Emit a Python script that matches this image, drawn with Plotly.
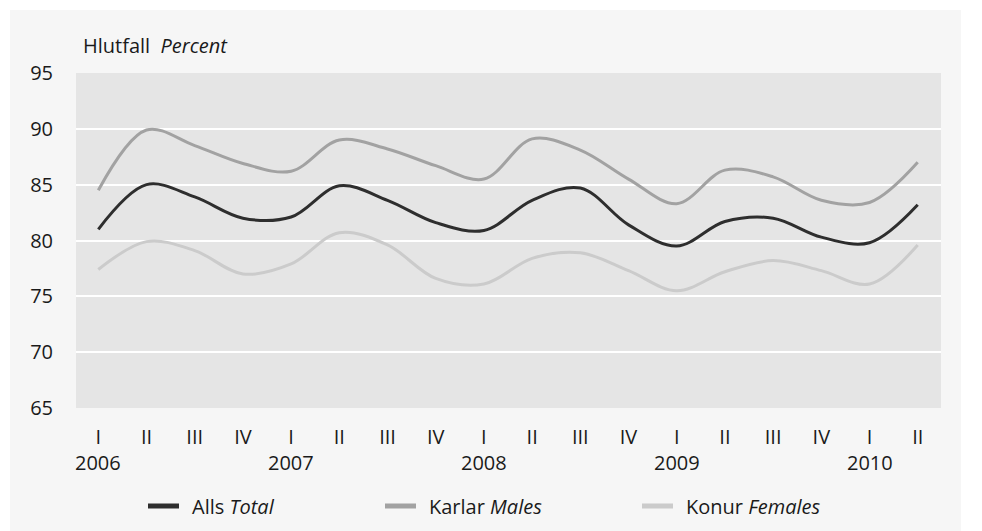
import plotly.graph_objects as go

# ---- data ----
quarters = ["I", "II", "III", "IV", "I", "II", "III", "IV", "I", "II", "III", "IV",
            "I", "II", "III", "IV", "I", "II"]
years = ["2006", "2007", "2008", "2009", "2010"]
year_index = [0, 4, 8, 12, 16]
total = [81.0, 85.0, 83.9, 82.0, 82.1, 84.9, 83.6, 81.6, 80.9, 83.6, 84.7, 81.4,
         79.5, 81.7, 82.0, 80.3, 79.8, 83.2]
males = [84.5, 89.9, 88.5, 86.9, 86.2, 89.0, 88.2, 86.7, 85.5, 89.1, 88.1, 85.5,
         83.3, 86.3, 85.7, 83.6, 83.4, 87.0]
females = [77.4, 79.9, 79.1, 77.0, 77.9, 80.7, 79.6, 76.6, 76.1, 78.4, 78.9, 77.3,
           75.5, 77.2, 78.2, 77.3, 76.1, 79.6]
series_names = ["Alls <i>Total</i>", "Karlar <i>Males</i>", "Konur <i>Females</i>"]
series_colors = ["#2e2e2e", "#a2a2a2", "#cbcbcb"]

W, H = 982, 531
L, R, T, B = 68, 49, 65, 131
PW, PH = W - L - R, H - T - B
FONT = "Open Sans"
FS = 20
TXT = "#1a1a1a"


def px(xp):
    return (xp - L) / PW


def py(yp):
    return (H - B - yp) / PH


xs = list(range(len(quarters)))
fig = go.Figure()
for vals, color in zip([total, males, females], series_colors):
    fig.add_trace(go.Scatter(x=xs, y=vals, mode="lines", showlegend=False,
                             line=dict(color=color, width=3, shape="spline", smoothing=1),
                             hoverinfo="skip"))

shapes = [
    dict(type="rect", xref="paper", yref="paper", x0=px(2), x1=px(953), y0=py(540), y1=py(2),
         fillcolor="#f6f6f6", line=dict(width=0), layer="below"),
    dict(type="rect", xref="paper", yref="paper", x0=0, x1=1, y0=0, y1=1,
         fillcolor="#e5e5e5", line=dict(width=0), layer="below"),
]
annotations = [
    dict(text="Hlutfall  <i>Percent</i>", xref="paper", yref="paper", x=px(73), y=py(38),
         xanchor="left", yanchor="middle", showarrow=False, font=dict(size=FS, color=TXT, family=FONT)),
]
for yr, idx in zip(years, year_index):
    annotations.append(dict(text=yr, xref="x", yref="paper", x=xs[idx], y=py(454),
                            xanchor="center", yanchor="middle", showarrow=False,
                            font=dict(size=FS, color=TXT, family=FONT)))

legend_x = [140, 377, 634]
for name, color, lx in zip(series_names, series_colors, legend_x):
    shapes.append(dict(type="line", xref="paper", yref="paper", x0=px(lx), x1=px(lx + 31),
                       y0=py(498), y1=py(498), line=dict(color=color, width=5)))
    annotations.append(dict(text=name, xref="paper", yref="paper", x=px(lx + 42), y=py(498),
                            xanchor="left", yanchor="middle", showarrow=False,
                            font=dict(size=FS, color=TXT, family=FONT)))

fig.update_layout(
    width=W, height=H,
    margin=dict(l=L, r=R, t=T, b=B, pad=0),
    paper_bgcolor="white", plot_bgcolor="rgba(0,0,0,0)",
    font=dict(family=FONT, size=FS, color=TXT),
    shapes=shapes, annotations=annotations,
    xaxis=dict(range=[-0.463, 17.483], tickmode="array", tickvals=xs, ticktext=quarters,
               showgrid=False, zeroline=False, showline=False, ticks="",
               ticklabelstandoff=15, tickfont=dict(size=FS, color=TXT, family=FONT)),
    yaxis=dict(range=[65, 95], tickmode="linear", tick0=65, dtick=5,
               showgrid=True, gridcolor="white", gridwidth=2, zeroline=False, showline=False,
               ticks="", ticklabelstandoff=22, tickfont=dict(size=FS, color=TXT, family=FONT)),
)

fig.write_html("out.html")
